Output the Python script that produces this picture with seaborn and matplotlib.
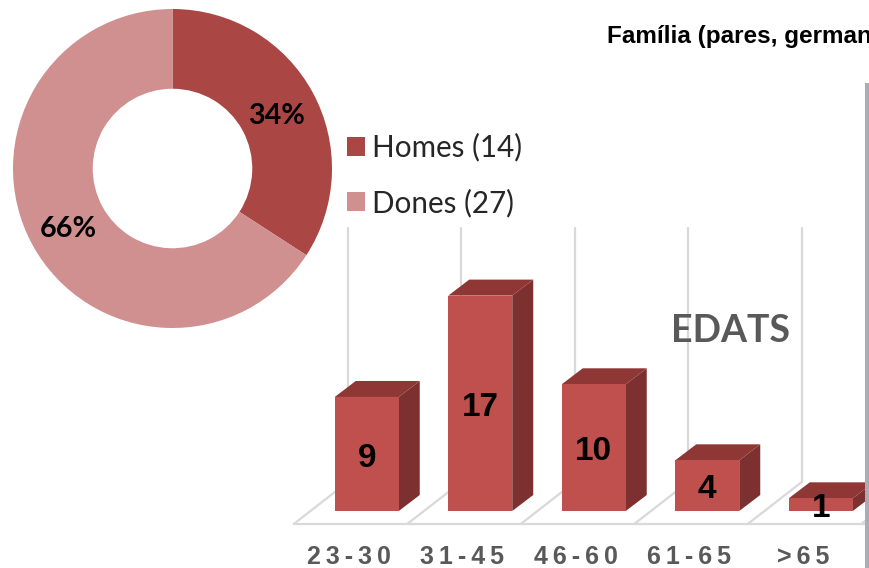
import matplotlib
matplotlib.use("Agg")
import matplotlib.pyplot as plt
from matplotlib.patches import Patch, Polygon, Rectangle
from matplotlib.transforms import ScaledTranslation
import seaborn as sns

# gender donut
genders = ["Homes (14)", "Dones (27)"]
gender_counts = [14, 27]
gender_colors = ["#AA4644", "#CF908F"]

# age bars
age_groups = ["23-30", "31-45", "46-60", "61-65", ">65"]
age_counts = [9, 17, 10, 4, 1]

W, H = 869, 568
sns.set_theme(style="white")
plt.rcParams["font.family"] = ["Lato", "DejaVu Sans"]

fig = plt.figure(figsize=(W / 100, H / 100), dpi=100, facecolor="white")


def px_axes(left, top, right, bottom):
    return fig.add_axes([left / W, 1 - bottom / H, (right - left) / W, (bottom - top) / H])


# bars, axes baseline sits on the bar bottoms
ax = px_axes(310, 228, 869, 511)
ax.set_facecolor("none")
ux = 113.5  # px per category
uy = 12.67  # px per person

sns.barplot(x=age_groups, y=age_counts, color="#C0504D", saturation=1, width=64 / ux,
            linewidth=0, ax=ax, zorder=3)
ax.set_xlim(-0.5, (869 - 310) / ux - 0.5)
ax.set_ylim(0, (511 - 228) / uy)
sns.despine(ax=ax, left=True, bottom=True)
ax.set_yticks([])
ax.set_xlabel("")
ax.set_ylabel("")

# fake 3d: side and top faces taken from each bar
dx, dy = 21 / ux, 16 / uy
for p in ax.patches:
    x0, x1, h = p.get_x(), p.get_x() + p.get_width(), p.get_height()
    ax.add_patch(Polygon([(x1, 0), (x1 + dx, dy), (x1 + dx, h + dy), (x1, h)],
                         fc="#7C3130", ec="none", zorder=2, clip_on=False))
    ax.add_patch(Polygon([(x0, h), (x0 + dx, h + dy), (x1 + dx, h + dy), (x1, h)],
                         fc="#8E3735", ec="none", zorder=2, clip_on=False))

# floor and back lines
grid_c = "#D9D9D9"
front_y, back_y = -13 / uy, 29 / uy
for i in range(len(age_groups) + 1):
    front_x = i - 73 / ux
    back_x = i - 19 / ux
    ax.plot([front_x, back_x], [front_y, back_y], color=grid_c, lw=1.6, zorder=1, clip_on=False)
    if i < len(age_groups):
        ax.plot([back_x, back_x], [back_y, ax.get_ylim()[1]], color=grid_c, lw=1.6, zorder=1,
                clip_on=False)
ax.plot([-73 / ux, (866 - 367) / ux], [front_y, front_y], color=grid_c, lw=1.6, zorder=1,
        clip_on=False)

# value labels
ax.bar_label(ax.containers[0], labels=[str(v) for v in age_counts], label_type="center", padding=-3,
             fontsize=24, fontweight="bold", color="black", family="Liberation Sans", zorder=5)

# spaced category labels, shifted left to sit under the floor
ax.tick_params(axis="x", length=0, pad=24.5)
ax.set_xticks(range(len(age_groups)))
ax.set_xticklabels(["\u2009".join(g) for g in age_groups], fontsize=18, fontweight="bold",
                   color="#595959", family="Liberation Sans")
for lab in ax.get_xticklabels():
    lab.set_transform(lab.get_transform() + ScaledTranslation(-18 / 100, 0, fig.dpi_scale_trans))

fig.text(730 / W, 1 - 331 / H, "EDATS", fontsize=27, fontweight="bold", color="#595959",
         ha="center", va="center")

# donut
ax_pie = px_axes(13, 9, 332, 328)
wedges, _, autotexts = ax_pie.pie(gender_counts, colors=gender_colors, startangle=90,
                                  counterclock=False, radius=1, autopct="%.0f%%", pctdistance=0.74,
                                  wedgeprops={"width": 0.5, "edgecolor": "none"},
                                  textprops={"fontsize": 20.7, "fontweight": "bold", "color": "black"})
ax_pie.set_xlim(-1, 1)
ax_pie.set_ylim(-1, 1)
for t in autotexts:
    t.set_y(t.get_position()[1] - 0.025)

fig.legend(handles=[Patch(fc=c, ec="none", label=g) for g, c in zip(genders, gender_colors)],
           loc="upper left", bbox_to_anchor=(347 / W, 1 - 133 / H), frameon=False, fontsize=21.3,
           handlelength=0.6, handleheight=0.6, handletextpad=0.25, labelspacing=0.9,
           borderpad=0, borderaxespad=0)

fig.text(607 / W, 1 - 43 / H, "Família (pares, germans", fontsize=17.5, fontweight="bold",
         color="black", family="Liberation Sans", ha="left", va="baseline")

# grey strip at the cut right edge
fig.add_artist(Rectangle((865 / W, 0), 4 / W, 1 - 83 / H, transform=fig.transFigure,
                         fc="#ABABB5", ec="none", zorder=0.5))

fig.savefig("out.png", dpi=100)
